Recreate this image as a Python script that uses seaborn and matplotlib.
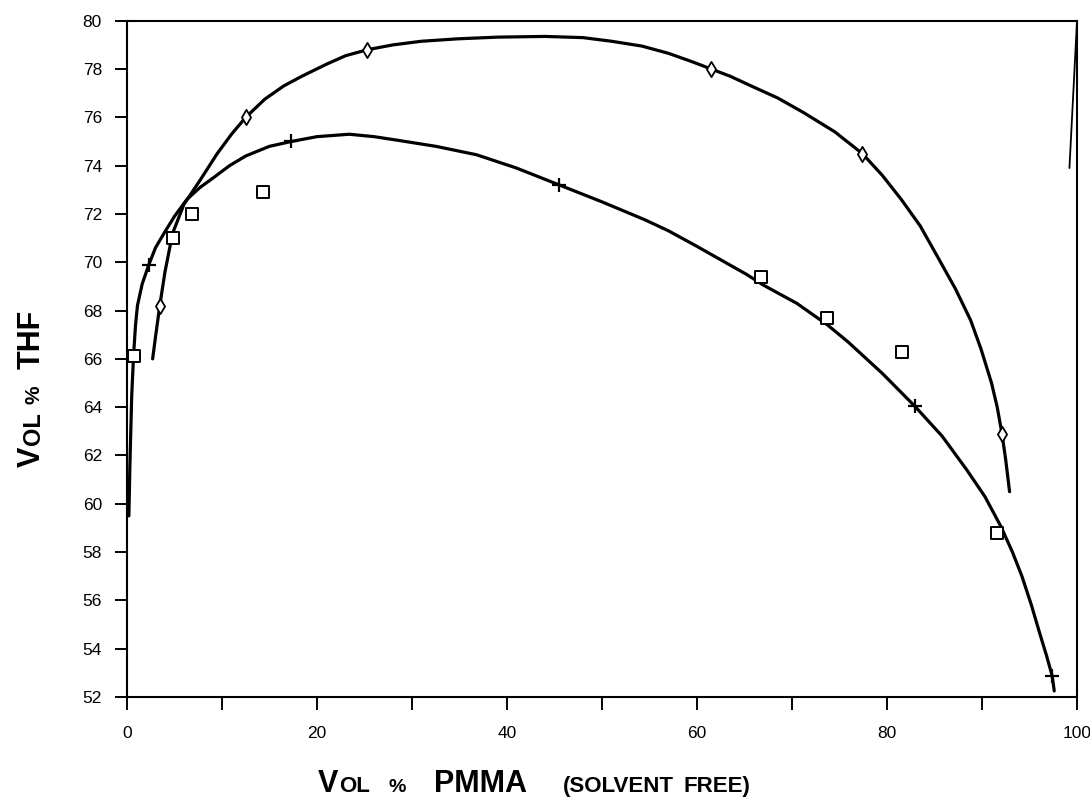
import matplotlib
matplotlib.use("Agg")
import numpy as np
import pandas as pd
import matplotlib.pyplot as plt
import seaborn as sns
from matplotlib.transforms import IdentityTransform

# points (vol % PMMA, vol % THF)
square_x = [0.7, 4.8, 6.8, 14.3, 66.7, 73.7, 81.6, 91.6]
square_y = [66.1, 71.0, 72.0, 72.9, 69.4, 67.7, 66.3, 58.8]
diamond_x = [3.45, 12.5, 25.3, 61.5, 77.4, 92.1]
diamond_y = [68.2, 76.0, 78.8, 78.0, 74.5, 62.9]
plus_x = [2.3, 17.3, 45.5, 82.9, 97.4]
plus_y = [69.9, 75.0, 73.2, 64.05, 52.85]

# hand drawn curves
upper_x = [2.7, 3.0, 3.45, 4.0, 4.8, 6.0, 7.7, 9.5, 11.0, 12.5, 14.5, 16.5, 18.4,
           21.0, 23.0, 25.3, 28.0, 31.0, 34.8, 39.0, 44.0, 48.0, 51.0, 54.2, 57.0,
           59.5, 61.5, 63.5, 65.7, 68.5, 71.2, 74.5, 77.4, 79.5, 81.5, 83.5, 85.5,
           87.2, 88.8, 89.9, 91.0, 91.6, 92.1, 92.5, 92.9]
upper_y = [66.0, 66.9, 68.2, 69.6, 71.2, 72.4, 73.4, 74.5, 75.3, 76.0, 76.75, 77.3, 77.7,
           78.2, 78.55, 78.8, 79.0, 79.15, 79.25, 79.32, 79.35, 79.3, 79.15, 78.95, 78.65,
           78.3, 78.0, 77.7, 77.3, 76.8, 76.2, 75.4, 74.5, 73.6, 72.6, 71.5, 70.1,
           68.9, 67.6, 66.4, 65.0, 64.0, 62.9, 61.8, 60.5]
lower_x = [0.2, 0.3, 0.4, 0.5, 0.7, 0.9, 1.1, 1.6, 2.3, 3.0, 3.9, 5.0, 6.3, 7.7, 9.1,
           10.8, 12.5, 15.0, 17.3, 20.0, 23.4, 26.0, 28.5, 32.5, 36.8, 41.0, 45.5,
           50.0, 54.5, 57.0, 59.8, 62.5, 65.2, 67.0, 70.5, 73.75, 75.9, 79.5, 82.9,
           85.8, 88.4, 90.3, 92.0, 93.2, 94.2, 95.2, 96.1, 96.8, 97.4, 97.6]
lower_y = [59.5, 61.5, 63.0, 64.5, 66.2, 67.4, 68.2, 69.1, 69.9, 70.6, 71.2, 71.9, 72.6, 73.1, 73.5,
           74.0, 74.4, 74.8, 75.0, 75.2, 75.3, 75.2, 75.05, 74.8, 74.45, 73.9, 73.2,
           72.5, 71.76, 71.3, 70.7, 70.1, 69.5, 69.05, 68.3, 67.4, 66.7, 65.4, 64.05,
           62.8, 61.4, 60.3, 59.05, 58.0, 57.0, 55.8, 54.6, 53.7, 52.85, 52.25]
stray_x = [99.2, 100.0]
stray_y = [73.9, 80.0]

x_ticks = [0, 20, 40, 60, 80, 100]
y_ticks = list(range(52, 81, 2))

LABEL_FONT = ["Liberation Sans", "DejaVu Sans"]

sns.set_style("ticks")
plt.rcParams["font.family"] = ["Liberation Sans", "DejaVu Sans"]
plt.rcParams["text.color"] = "black"
plt.rcParams["xtick.color"] = "black"
plt.rcParams["ytick.color"] = "black"

fig = plt.figure(figsize=(10.9, 7.97), dpi=100)
ax = fig.add_axes([0.1165, 0.1255, 0.8716, 0.8485])

upper = pd.DataFrame({"x": upper_x, "y": upper_y})
lower = pd.DataFrame({"x": lower_x, "y": lower_y})
sns.lineplot(data=upper, x="x", y="y", sort=False, estimator=None, color="black", lw=2.3, ax=ax)
sns.lineplot(data=lower, x="x", y="y", sort=False, estimator=None, color="black", lw=2.3, ax=ax)
ax.plot(stray_x, stray_y, color="black", lw=1.3, clip_on=False)

sns.scatterplot(x=square_x, y=square_y, marker="s", s=80, facecolor="white",
                edgecolor="black", linewidth=1.4, ax=ax, zorder=3)
sns.scatterplot(x=diamond_x, y=diamond_y, marker="d", s=60, facecolor="white",
                edgecolor="black", linewidth=1.3, ax=ax, zorder=3)
sns.scatterplot(x=plus_x, y=plus_y, marker="+", s=90, color="black",
                linewidth=1.6, ax=ax, zorder=3)

ax.set_xlim(0, 100)
ax.set_ylim(52, 80)
ax.set_xticks(x_ticks)
ax.set_xticks(range(10, 100, 20), minor=True)
ax.set_yticks(y_ticks)
ax.tick_params(axis="x", which="both", direction="out", length=9, width=1.4, pad=12, labelsize=12.5)
ax.tick_params(axis="y", direction="out", length=9, width=1.4, pad=9, labelsize=12.5)
ax.set_xlabel("")
ax.set_ylabel("")
for side in ["left", "right", "top", "bottom"]:
    ax.spines[side].set_visible(True)
    ax.spines[side].set_linewidth(1.5)
    ax.spines[side].set_color("black")


def small_caps(parts, x, y, vertical=False):
    # lay out pieces of text one after the other, in pixels
    r = fig.canvas.get_renderer()
    for text, size, gap in parts:
        t = fig.text(x, y, text, transform=IdentityTransform(), fontsize=size,
                     fontweight="bold", family=LABEL_FONT, ha="left", va="baseline",
                     rotation=90 if vertical else 0, rotation_mode="anchor", color="black")
        bb = t.get_window_extent(r)
        if vertical:
            y += bb.height + gap
        else:
            x += bb.width + gap


small_caps([("V", 22, 1), ("OL", 16, 18), ("%", 14, 28), ("PMMA", 22, 36),
            ("(SOLVENT", 16, 10), ("FREE)", 16, 0)], 318, 5)
small_caps([("V", 22, 2), ("OL", 17, 8), ("%", 15, 16), ("THF", 22, 0)], 40, 330, vertical=True)

fig.savefig("out.png", dpi=100)
